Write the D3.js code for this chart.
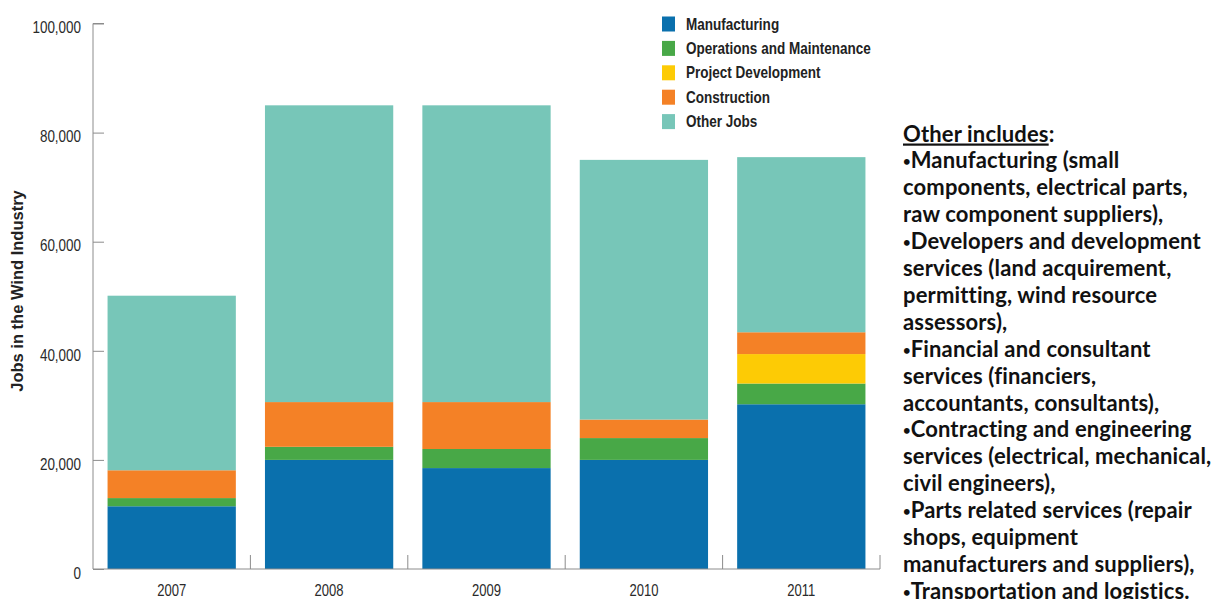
<!DOCTYPE html>
<html>
<head>
<meta charset="utf-8">
<script src="https://cdn.jsdelivr.net/npm/d3@7"></script>
<style>
  html, body { margin: 0; padding: 0; background: #fff; }
  svg { display: block; }
</style>
</head>
<body>
<svg id="chart" width="1220" height="599"></svg>
<script>
// Wind industry jobs by category, 2007-2011
const years = ["2007", "2008", "2009", "2010", "2011"];
const seriesNames = ["Manufacturing", "Operations and Maintenance", "Project Development", "Construction", "Other Jobs"];
const seriesColors = ["#0a70ad", "#48a847", "#fdcb05", "#f48126", "#77c6b8"];
const manufacturing = [11500, 20000, 18500, 20000, 30200];
const operationsMaintenance = [1500, 2400, 3500, 4000, 3800];
const projectDevelopment = [0, 0, 0, 0, 5400];
const construction = [5100, 8200, 8600, 3400, 4000];
const otherJobs = [32000, 54400, 54400, 47600, 32100];
const yTickValues = [0, 20000, 40000, 60000, 80000, 100000];
const noteTitle = "Other includes";
const noteLines = [
  "Manufacturing (small",
  "components, electrical parts,",
  "raw component suppliers),",
  "Developers and development",
  "services (land acquirement,",
  "permitting, wind resource",
  "assessors),",
  "Financial and consultant",
  "services (financiers,",
  "accountants, consultants),",
  "Contracting and engineering",
  "services (electrical, mechanical,",
  "civil engineers),",
  "Parts related services (repair",
  "shops, equipment",
  "manufacturers and suppliers),",
  "Transportation and logistics."
];
// lines that open a new bullet point
const bulletLines = [0, 3, 7, 10, 13, 16];

const seriesValues = [manufacturing, operationsMaintenance, projectDevelopment, construction, otherJobs];
const rows = years.map((y, i) => {
  const r = { year: y };
  seriesNames.forEach((s, k) => { r[s] = seriesValues[k][i]; });
  return r;
});

const svg = d3.select("#chart");
const sans = "'Liberation Sans', Arial, sans-serif";
const squeeze = 0.8; // condensed look for the chart labels
const axisColor = "#8c8c8c";

const plot = { left: 93, right: 880, top: 23.5, bottom: 569 };

const x = d3.scaleBand()
  .domain(years)
  .range([plot.left, plot.right])
  .paddingInner(0.185)
  .paddingOuter(0.0925);

const y = d3.scaleLinear()
  .domain([0, 100000])
  .range([plot.bottom, plot.top]);

const layers = d3.stack().keys(seriesNames)(rows);

// Stacked bars
svg.append("g")
  .selectAll("g")
  .data(layers)
  .join("g")
  .attr("fill", (d, i) => seriesColors[i])
  .selectAll("rect")
  .data(d => d)
  .join("rect")
  .attr("x", d => x(d.data.year))
  .attr("width", x.bandwidth())
  .attr("y", d => y(d[1]))
  .attr("height", d => y(d[0]) - y(d[1]));

// Y axis with inward ticks
const yAxis = svg.append("g")
  .attr("transform", `translate(${plot.left},0)`)
  .call(d3.axisRight(y).tickValues(yTickValues).tickSize(11).tickFormat(d3.format(",")));
yAxis.select(".domain").attr("stroke", axisColor).attr("d", `M11,${plot.top}H0V${plot.bottom}`);
yAxis.selectAll(".tick line").attr("stroke", axisColor);
yAxis.selectAll(".tick text")
  .attr("x", -12 / squeeze)
  .attr("dy", "0.55em")
  .attr("transform", `scale(${squeeze},1)`)
  .attr("text-anchor", "end")
  .attr("font-family", sans)
  .attr("font-size", 16.8)
  .attr("fill", "#2a2a2a");

// X axis: baseline with upward ticks between categories
const xAxis = svg.append("g")
  .attr("transform", `translate(0,${plot.bottom})`);
xAxis.append("line")
  .attr("x1", plot.left).attr("x2", plot.right)
  .attr("y1", 0).attr("y2", 0)
  .attr("stroke", axisColor);
const step = x.step();
const boundaries = years.map((yr, i) => plot.left + step * (i + 1));
xAxis.selectAll("line.sep")
  .data(boundaries)
  .join("line")
  .attr("class", "sep")
  .attr("x1", d => d).attr("x2", d => d)
  .attr("y1", 0).attr("y2", -14)
  .attr("stroke", axisColor);
xAxis.selectAll("text")
  .data(years)
  .join("text")
  .attr("transform", d => `translate(${x(d) + x.bandwidth() / 2},26.5) scale(${squeeze},1)`)
  .attr("text-anchor", "middle")
  .attr("font-family", sans)
  .attr("font-size", 16.3)
  .attr("fill", "#2a2a2a")
  .text(d => d);

// Y axis title
svg.append("text")
  .attr("transform", `translate(23,291) rotate(-90)`)
  .attr("text-anchor", "middle")
  .attr("font-family", sans)
  .attr("font-weight", "bold")
  .attr("font-size", 16.5)
  .attr("fill", "#222")
  .text("Jobs in the Wind Industry");

// Legend
const legend = svg.append("g").attr("transform", "translate(662,16.5)");
const item = legend.selectAll("g")
  .data(seriesNames)
  .join("g")
  .attr("transform", (d, i) => `translate(0,${i * 24.4})`);
item.append("rect")
  .attr("x", 0).attr("y", 0)
  .attr("width", 13).attr("height", 15)
  .attr("fill", (d, i) => seriesColors[i]);
item.append("text")
  .attr("transform", `translate(24,13) scale(0.82,1)`)
  .attr("font-family", sans)
  .attr("font-weight", "bold")
  .attr("font-size", 16.5)
  .attr("fill", "#222")
  .text(d => d);

// Side note
const note = svg.append("text")
  .attr("font-family", "Lato, 'Open Sans', sans-serif")
  .attr("font-weight", "bold")
  .attr("font-size", 22)
  .attr("letter-spacing", 0.15)
  .attr("fill", "#111");
const title = note.append("tspan").attr("x", 903).attr("y", 141.5);
title.append("tspan").attr("text-decoration", "underline").text(noteTitle);
title.append("tspan").text(":");
noteLines.forEach((line, i) => {
  const row = note.append("tspan")
    .attr("x", 903)
    .attr("y", 141.5 + (i + 1) * 26.9);
  if (bulletLines.includes(i)) {
    row.append("tspan")
      .attr("font-size", 13)
      .attr("baseline-shift", 2)
      .text("\u2022");
  }
  row.append("tspan").text(line);
});
</script>
</body>
</html>
